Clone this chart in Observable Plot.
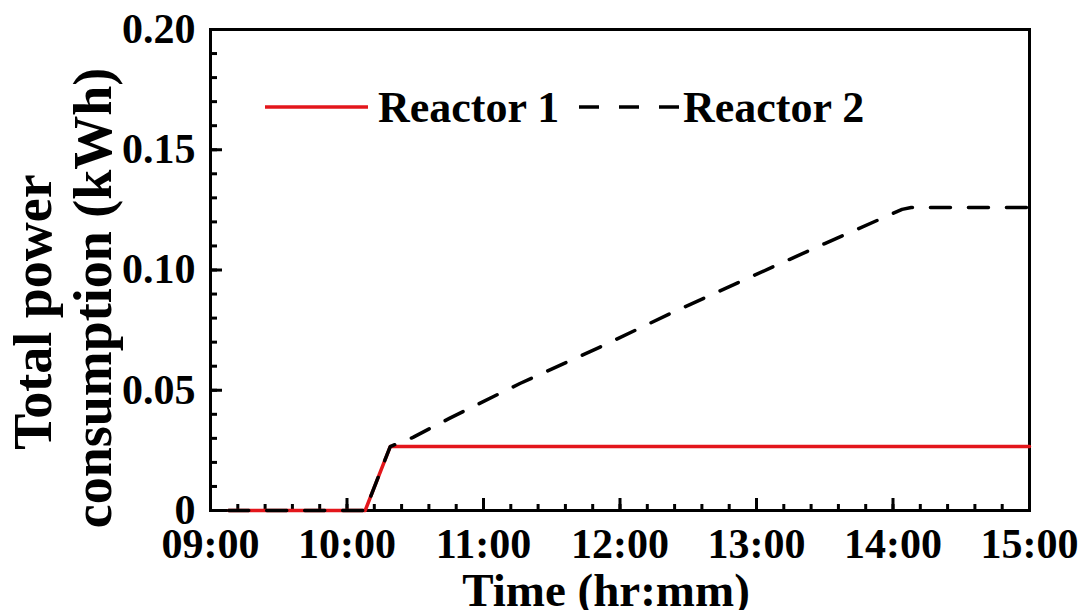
<!DOCTYPE html>
<html>
<head>
<meta charset="utf-8">
<script src="https://cdn.jsdelivr.net/npm/d3@7"></script>
<script src="https://cdn.jsdelivr.net/npm/@observablehq/plot@0.6"></script>
<style>
  body { margin: 0; background: #fff; }
  #chart { position: relative; width: 1087px; height: 610px; }
  #legend { position: absolute; left: 0; top: 0; pointer-events: none; }
  #legend text { font-family: "Liberation Serif", "Times New Roman", serif; font-weight: bold; font-size: 44px; fill: #000; }
</style>
</head>
<body>
<div id="chart"></div>
<script>
// Hourly tick labels on the time axis and value ticks on the energy axis
const hourLabels = ["09:00", "10:00", "11:00", "12:00", "13:00", "14:00", "15:00"];
const energyTicks = [0, 0.05, 0.10, 0.15, 0.20];

// Reactor 1: cumulative energy (kWh)
const reactor1Time = ["09:08", "10:08", "10:19", "15:00"];
const reactor1Energy = [0, 0, 0.0266, 0.0266];

// Reactor 2: cumulative energy (kWh)
const reactor2Time = ["09:08", "10:08", "10:19", "10:29", "10:45", "11:16", "11:50",
                      "12:23", "12:56", "13:30", "14:04", "14:08", "15:00"];
const reactor2Energy = [0, 0, 0.0266, 0.0304, 0.0383, 0.0528, 0.0674,
                        0.0823, 0.0965, 0.111, 0.1252, 0.126, 0.126];

const parseTime = s => new Date(Date.UTC(2000, 0, 1, +s.slice(0, 2), +s.slice(3, 5)));

const reactor1 = reactor1Time.map((t, i) => ({time: parseTime(t), energy: reactor1Energy[i]}));
const reactor2 = reactor2Time.map((t, i) => ({time: parseTime(t), energy: reactor2Energy[i]}));

const hourDates = hourLabels.map(parseTime);
const xDomain = [hourDates[0], hourDates[hourDates.length - 1]];
const minorX = d3.utcMinute.every(12).range(xDomain[0], xDomain[1]);
const minorY = d3.range(0, 21).map(k => k / 100);

const W = 1087, H = 610;
const mL = 210, mR = 58, mT = 29, mB = 100;
const PW = W - mL - mR, PH = H - mT - mB;
const font = '"Liberation Serif", "Times New Roman", serif';

const chart = Plot.plot({
  width: W,
  height: H,
  marginLeft: mL,
  marginRight: mR,
  marginTop: mT,
  marginBottom: mB,
  style: {fontFamily: font, fontWeight: "bold", color: "#000", background: "#fff"},
  x: {type: "utc", domain: xDomain},
  y: {domain: [0, 0.2]},
  marks: [
    Plot.frame({stroke: "#000", strokeWidth: 3}),
    // inward ticks: minor every 12 min / 0.01, major every hour / 0.05
    Plot.tickX(minorX, {x: d => d, insetTop: PH - 6, stroke: "#000", strokeWidth: 3}),
    Plot.tickX(hourDates, {x: d => d, insetTop: PH - 12, stroke: "#000", strokeWidth: 3}),
    Plot.tickY(minorY, {y: d => d, insetRight: PW - 7, stroke: "#000", strokeWidth: 3}),
    Plot.tickY(energyTicks, {y: d => d, insetRight: PW - 12, stroke: "#000", strokeWidth: 3}),
    Plot.axisX(hourDates, {
      tickSize: 0, tickPadding: 18, fontSize: 42, label: null,
      tickFormat: d3.utcFormat("%H:%M")
    }),
    Plot.axisY(energyTicks, {
      tickSize: 0, tickPadding: 15, fontSize: 42, label: null,
      tickFormat: d => d === 0 ? "0" : d3.format(".2f")(d)
    }),
    Plot.text(["Time (hr:mm)"], {
      frameAnchor: "bottom", lineAnchor: "bottom", textAnchor: "middle",
      dx: -14, dy: 95, fontSize: 47, fontWeight: "bold"
    }),
    Plot.text(["Total power"], {
      frameAnchor: "left", rotate: -90, lineAnchor: "bottom", textAnchor: "middle",
      dx: -160, dy: 42, fontSize: 54, fontWeight: "bold"
    }),
    Plot.text(["consumption (kWh)"], {
      frameAnchor: "left", rotate: -90, lineAnchor: "bottom", textAnchor: "middle",
      dx: -100, dy: 28, fontSize: 54, fontWeight: "bold"
    }),
    Plot.line(reactor1, {x: "time", y: "energy", stroke: "#e3161b", strokeWidth: 3.5}),
    Plot.line(reactor2, {x: "time", y: "energy", stroke: "#000", strokeWidth: 3.5, strokeDasharray: "20,18"})
  ]
});

const container = document.getElementById("chart");
container.appendChild(chart);

// Legend inside the plot area
const legend = d3.select(container).append("svg")
  .attr("id", "legend")
  .attr("width", W)
  .attr("height", H);
legend.append("line")
  .attr("x1", 265).attr("x2", 368).attr("y1", 107).attr("y2", 107)
  .attr("stroke", "#e3161b").attr("stroke-width", 3.5);
legend.append("text").attr("x", 378).attr("y", 122).text("Reactor 1");
legend.append("line")
  .attr("x1", 579).attr("x2", 680).attr("y1", 107).attr("y2", 107)
  .attr("stroke", "#000").attr("stroke-width", 3.5).attr("stroke-dasharray", "20,20");
legend.append("text").attr("x", 683).attr("y", 122).text("Reactor 2");
</script>
</body>
</html>
